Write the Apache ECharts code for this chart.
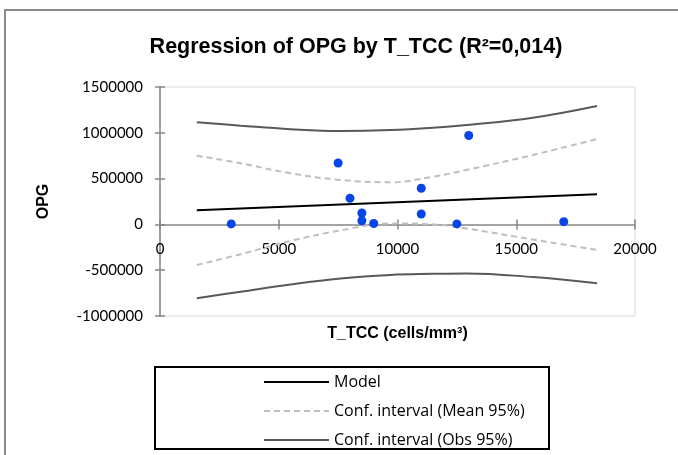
<!DOCTYPE html>
<html><head><meta charset="utf-8">
<script src="https://cdn.jsdelivr.net/npm/echarts@6/dist/echarts.min.js"></script>
<style>html,body{margin:0;padding:0;background:#fff}#c{width:678px;height:455px}</style>
</head><body><div id="c"></div>
<script>
const titleText = 'Regression of OPG by T_TCC (R²=0,014)';
const xName = 'T_TCC (cells/mm³)';
const yName = 'OPG';
const legendNames = ['Model', 'Conf. interval (Mean 95%)', 'Conf. interval (Obs 95%)'];

const pointsX = [3000, 7500, 8000, 8500, 8500, 9000, 11000, 11000, 12500, 13000, 17000];
const pointsY = [5000, 670000, 285000, 125000, 40000, 10000, 395000, 113000, 5000, 970000, 30000];

const modelX = [1550, 18400];
const modelY = [154000, 329000];

const curveX = [1550, 3400, 5500, 7600, 9700, 11500, 12900, 15700, 18400];
const meanUpper = [750000, 667000, 558000, 485000, 460000, 521000, 594000, 758000, 932000];
const meanLower = [-443000, -325000, -180000, -65000, 10000, 0, -45000, -165000, -279000];
const obsUpper = [1115000, 1078000, 1040000, 1020000, 1030000, 1055000, 1085000, 1165000, 1293000];
const obsLower = [-807000, -735000, -655000, -590000, -552000, -540000, -535000, -575000, -643000];

const xMin = 0, xMax = 20000, xStep = 5000;
const yMin = -1000000, yMax = 1500000, yStep = 500000;

function pairs(xs, ys) { return xs.map((x, i) => [x, ys[i]]); }
const plain = v => String(v);

const axisGray = '#868686';
const labelFont = 'Lato, "Open Sans", sans-serif';
const legendFont = '"Open Sans", Lato, sans-serif';
const boldFont = '"Liberation Sans", Arial, sans-serif';

const chart = echarts.init(document.getElementById('c'), null, {renderer: 'canvas'});
const gridPos = {left: 160, right: 43, top: 87, bottom: 139};
// grid whose bottom edge sits on the y=0 line, used only to carry the x tick labels
const yZeroPx = 87 + (yMax - 0) / (yMax - yMin) * (455 - 139 - 87);

const lineBase = {type: 'line', showSymbol: false, symbol: 'none', smooth: 0.4, xAxisIndex: 0, yAxisIndex: 0, z: 3};

chart.setOption({
  animation: false,
  title: {
    text: titleText, left: 351, top: 31, textAlign: 'center',
    textStyle: {fontFamily: boldFont, fontWeight: 'bold', fontSize: 21.5, color: '#000'}
  },
  grid: [
    Object.assign({show: true, borderColor: '#d9d9d9', borderWidth: 1, containLabel: false}, gridPos),
    Object.assign({show: false, containLabel: false}, gridPos),
    {show: false, containLabel: false, left: 160, right: 43, top: 87, bottom: 455 - yZeroPx}
  ],
  legend: {
    data: legendNames, orient: 'vertical', left: 263, top: 374, padding: 0,
    itemWidth: 65, itemHeight: 14, itemGap: 13,
    itemStyle: {opacity: 0},
    textStyle: {fontFamily: legendFont, fontSize: 16, color: '#000'},
    selectedMode: false
  },
  xAxis: [{
    type: 'value', gridIndex: 0, min: xMin, max: xMax, interval: xStep,
    name: xName, nameLocation: 'middle', nameGap: 10,
    nameTextStyle: {fontFamily: boldFont, fontWeight: 'bold', fontSize: 16, color: '#000'},
    axisLine: {show: true, onZero: true, lineStyle: {color: axisGray, width: 1.5}},
    axisTick: {show: true, inside: false, length: 5, lineStyle: {color: axisGray, width: 1.5}},
    axisLabel: {show: false},
    splitLine: {show: false}
  }, {
    type: 'value', gridIndex: 1, min: xMin, max: xMax, interval: xStep,
    axisLine: {show: false, onZero: true},
    axisTick: {show: true, inside: true, length: 5, lineStyle: {color: axisGray, width: 1.5}},
    axisLabel: {show: false}, splitLine: {show: false}
  }, {
    type: 'value', gridIndex: 2, min: xMin, max: xMax, interval: xStep,
    axisLine: {show: false, onZero: false},
    axisTick: {show: false},
    axisLabel: {show: true, margin: 17, formatter: plain, fontFamily: labelFont, fontSize: 15, color: '#000'},
    splitLine: {show: false}
  }],
  yAxis: [{
    type: 'value', gridIndex: 0, min: yMin, max: yMax, interval: yStep,
    name: yName, nameLocation: 'middle', nameGap: 108, nameRotate: 90,
    nameTextStyle: {fontFamily: boldFont, fontWeight: 'bold', fontSize: 16, color: '#000'},
    axisLine: {show: true, onZero: false, lineStyle: {color: axisGray, width: 1.5}},
    axisTick: {show: true, inside: false, length: 5, lineStyle: {color: axisGray, width: 1.5}},
    axisLabel: {margin: 17, formatter: plain, fontFamily: labelFont, fontSize: 15, color: '#000'},
    splitLine: {show: false}
  }, {
    type: 'value', gridIndex: 1, min: yMin, max: yMax, interval: yStep,
    axisLine: {show: false, onZero: false},
    axisTick: {show: true, inside: true, length: 5, lineStyle: {color: axisGray, width: 1.5}},
    axisLabel: {show: false}, splitLine: {show: false}
  }, {
    type: 'value', gridIndex: 2, min: 0, max: 1, show: false
  }],
  graphic: [
    {type: 'polyline', shape: {points: [[5, 455], [5, 10], [678, 10]]}, style: {stroke: '#8c8c8c', lineWidth: 2, fill: null}, silent: true},
    {type: 'rect', shape: {x: 155, y: 367, width: 394, height: 82}, style: {stroke: '#000', lineWidth: 2, fill: null}, silent: true}
  ],
  series: [
    Object.assign({}, lineBase, {name: legendNames[2], data: pairs(curveX, obsUpper), lineStyle: {color: '#595959', width: 2}, itemStyle: {color: '#595959'}}),
    Object.assign({}, lineBase, {name: legendNames[2], data: pairs(curveX, obsLower), lineStyle: {color: '#595959', width: 2}, itemStyle: {color: '#595959'}}),
    Object.assign({}, lineBase, {name: legendNames[1], data: pairs(curveX, meanUpper), lineStyle: {color: '#bfbfbf', width: 2, type: [6, 4]}, itemStyle: {color: '#bfbfbf'}}),
    Object.assign({}, lineBase, {name: legendNames[1], data: pairs(curveX, meanLower), lineStyle: {color: '#bfbfbf', width: 2, type: [6, 4]}, itemStyle: {color: '#bfbfbf'}}),
    Object.assign({}, lineBase, {name: legendNames[0], smooth: false, data: pairs(modelX, modelY), lineStyle: {color: '#000', width: 2}, itemStyle: {color: '#000'}}),
    {type: 'scatter', name: 'Observations', data: pairs(pointsX, pointsY), symbolSize: 9, itemStyle: {color: '#0845e8', opacity: 1}, z: 5, xAxisIndex: 0, yAxisIndex: 0}
  ]
});
</script></body></html>
